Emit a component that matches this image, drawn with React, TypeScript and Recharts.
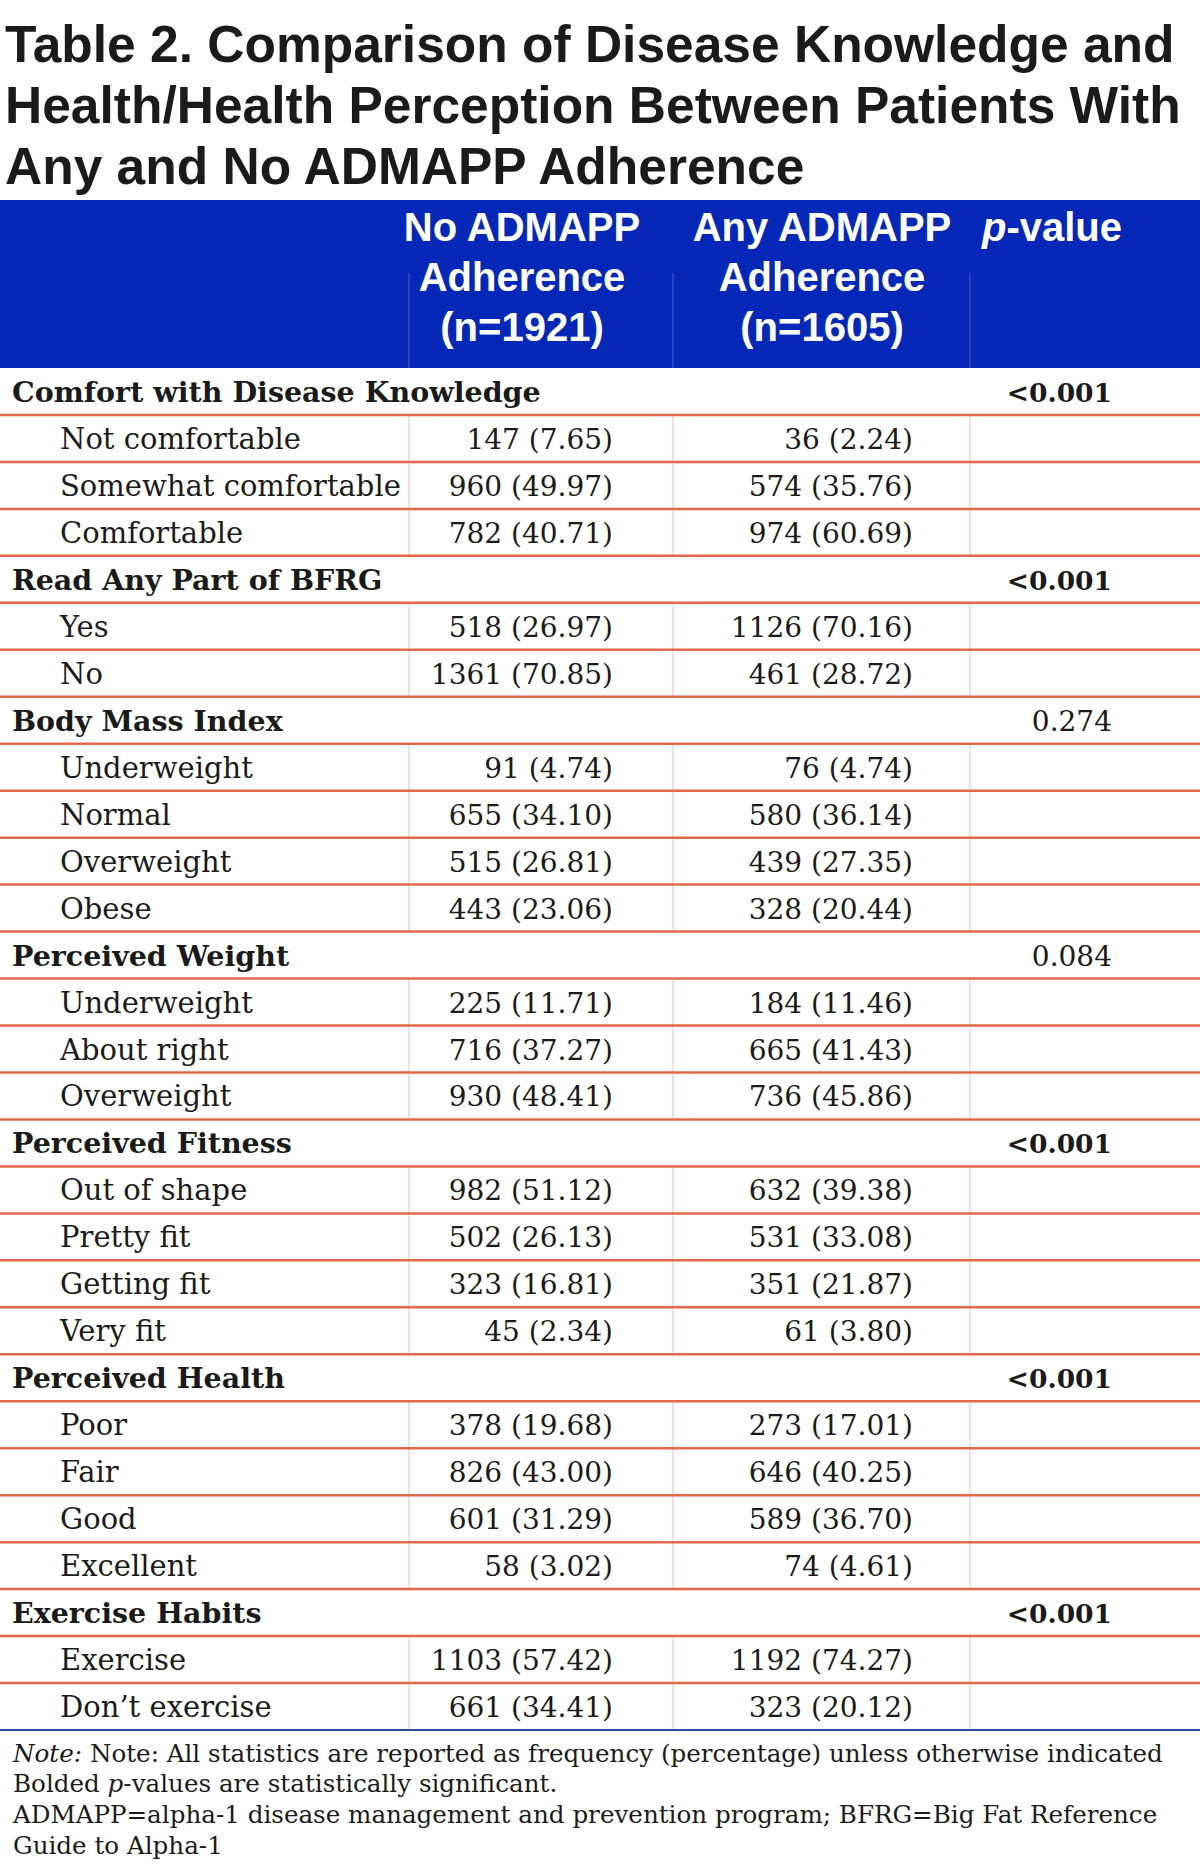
import React from 'react';
import { ComposedChart, XAxis, YAxis, Scatter, ReferenceLine, Customized } from 'recharts';

// ---------- data ----------
const titleLines = [
  'Table 2. Comparison of Disease Knowledge and',
  'Health/Health Perception Between Patients With',
  'Any and No ADMAPP Adherence',
];

const groupHeaders = [
  ['No ADMAPP', 'Adherence', '(n=1921)'],
  ['Any ADMAPP', 'Adherence', '(n=1605)'],
];

const rowLabels = [
  'Comfort with Disease Knowledge', 'Not comfortable', 'Somewhat comfortable', 'Comfortable',
  'Read Any Part of BFRG', 'Yes', 'No',
  'Body Mass Index', 'Underweight', 'Normal', 'Overweight', 'Obese',
  'Perceived Weight', 'Underweight', 'About right', 'Overweight',
  'Perceived Fitness', 'Out of shape', 'Pretty fit', 'Getting fit', 'Very fit',
  'Perceived Health', 'Poor', 'Fair', 'Good', 'Excellent',
  'Exercise Habits', 'Exercise', 'Don\u2019t exercise',
];

const sectionRows = [0, 4, 7, 12, 16, 21, 26];

const noCounts = [null, 147, 960, 782, null, 518, 1361, null, 91, 655, 515, 443, null, 225, 716, 930, null, 982, 502, 323, 45, null, 378, 826, 601, 58, null, 1103, 661];
const noPcts = [null, 7.65, 49.97, 40.71, null, 26.97, 70.85, null, 4.74, 34.10, 26.81, 23.06, null, 11.71, 37.27, 48.41, null, 51.12, 26.13, 16.81, 2.34, null, 19.68, 43.00, 31.29, 3.02, null, 57.42, 34.41];
const anyCounts = [null, 36, 574, 974, null, 1126, 461, null, 76, 580, 439, 328, null, 184, 665, 736, null, 632, 531, 351, 61, null, 273, 646, 589, 74, null, 1192, 323];
const anyPcts = [null, 2.24, 35.76, 60.69, null, 70.16, 28.72, null, 4.74, 36.14, 27.35, 20.44, null, 11.46, 41.43, 45.86, null, 39.38, 33.08, 21.87, 3.80, null, 17.01, 40.25, 36.70, 4.61, null, 74.27, 20.12];

const sectionPValues = ['<0.001', '<0.001', '0.274', '0.084', '<0.001', '<0.001', '<0.001'];
const sectionSignificant = [true, true, false, false, true, true, true];

// ---------- layout ----------
const W = 1200;
const H = 1867;
const BODY_TOP = 368;
const BODY_BOTTOM = 1730;
const ROWS = rowLabels.length;

const X_GROUP = 12;
const X_ITEM = 60;
const X_NO_RIGHT = 613;
const X_ANY_RIGHT = 913;
const X_P_RIGHT = 1112;
const COL_SEPS = [409, 673, 970];
const HEADER_CENTERS = [522, 822];
const X_PHEAD = 982;

const BLUE = '#0528b8';
const RED = '#e3674c';
const PINK = '#f7d3ca';
const INK = '#1b1b1b';
const SERIF = '"DejaVu Serif", serif';
const SANS = '"Liberation Sans", Arial, sans-serif';

const fmt = (c: number | null, p: number | null) => (c == null || p == null ? '' : `${c} (${p.toFixed(2)})`);

const isSection = (i: number) => sectionRows.includes(i);

const labelPoints = rowLabels.map((label, i) => ({
  x: isSection(i) ? X_GROUP : X_ITEM,
  y: i + 0.5,
  text: label,
  kind: isSection(i) ? 'section' : 'label',
  anchor: 'start',
}));

const noPoints = rowLabels
  .map((_, i) => ({ x: X_NO_RIGHT, y: i + 0.5, text: fmt(noCounts[i], noPcts[i]), kind: 'num', anchor: 'end' }))
  .filter((d) => d.text !== '');

const anyPoints = rowLabels
  .map((_, i) => ({ x: X_ANY_RIGHT, y: i + 0.5, text: fmt(anyCounts[i], anyPcts[i]), kind: 'num', anchor: 'end' }))
  .filter((d) => d.text !== '');

const pPoints = sectionRows.map((r, k) => ({
  x: X_P_RIGHT,
  y: r + 0.5,
  text: sectionPValues[k],
  kind: sectionSignificant[k] ? 'pbold' : 'num',
  anchor: 'end',
}));

const itemRows = rowLabels.map((_, i) => i).filter((i) => !isSection(i));

const STYLE: Record<string, { size: number; weight: number }> = {
  section: { size: 28.5, weight: 700 },
  label: { size: 29, weight: 400 },
  num: { size: 28, weight: 400 },
  pbold: { size: 26.5, weight: 700 },
};

const CellText = (props: any) => {
  const { cx, cy, payload } = props;
  if (cx == null || cy == null) return null;
  const st = STYLE[payload.kind];
  return (
    <text
      x={cx}
      y={cy + 10.5}
      textAnchor={payload.anchor}
      fontFamily={SERIF}
      fontSize={st.size}
      fontWeight={st.weight}
      fill={INK}
    >
      {payload.text}
    </text>
  );
};

const Overlay = () => (
  <g>
    {titleLines.map((t, i) => (
      <text key={i} x={5} y={61.5 + i * 61.3} fontFamily={SANS} fontWeight={700} fontSize={51.5} fill={INK}>
        {t}
      </text>
    ))}
    <rect x={0} y={200} width={W} height={BODY_TOP - 200} fill={BLUE} />
    {COL_SEPS.map((x) => (
      <line key={x} x1={x} x2={x} y1={273} y2={BODY_TOP} stroke="#2e4cc2" strokeWidth={1.5} />
    ))}
    {groupHeaders.map((lines, c) =>
      lines.map((t, i) => (
        <text
          key={`${c}-${i}`}
          x={HEADER_CENTERS[c]}
          y={241 + i * 50}
          textAnchor="middle"
          fontFamily={SANS}
          fontWeight={700}
          fontSize={40}
          fill="#ffffff"
        >
          {t}
        </text>
      )),
    )}
    <text x={X_PHEAD} y={241} fontFamily={SANS} fontWeight={700} fontSize={40} fill="#ffffff">
      <tspan fontStyle="italic">p</tspan>
      <tspan>-value</tspan>
    </text>
    <g fontFamily={SERIF} fontSize={24.6} fill={INK}>
      <text x={13} y={1762}>
        <tspan fontStyle="italic">Note:</tspan>
        <tspan> Note: All statistics are reported as frequency (percentage) unless otherwise indicated</tspan>
      </text>
      <text x={13} y={1792}>
        <tspan>Bolded </tspan>
        <tspan fontStyle="italic">p</tspan>
        <tspan>-values are statistically significant.</tspan>
      </text>
      <text x={13} y={1823}>ADMAPP=alpha-1 disease management and prevention program; BFRG=Big Fat Reference</text>
      <text x={13} y={1854}>Guide to Alpha-1</text>
    </g>
  </g>
);

export default function App() {
  return (
    <div style={{ position: 'absolute', left: 0, top: 0, width: W, height: H, background: '#ffffff' }}>
      <ComposedChart
        width={W}
        height={H}
        margin={{ top: BODY_TOP, bottom: H - BODY_BOTTOM, left: 0, right: 0 }}
      >
        <XAxis type="number" dataKey="x" domain={[0, W]} hide allowDataOverflow />
        <YAxis type="number" dataKey="y" domain={[0, ROWS]} reversed hide allowDataOverflow />
        <Customized component={Overlay} />
        {itemRows.map((i) =>
          COL_SEPS.map((x) => (
            <ReferenceLine
              key={`sep-${i}-${x}`}
              segment={[
                { x, y: i },
                { x, y: i + 1 },
              ]}
              stroke={PINK}
              strokeWidth={1.5}
            />
          )),
        )}
        {Array.from({ length: ROWS - 1 }, (_, k) => k + 1).map((k) => (
          <ReferenceLine key={`row-${k}`} y={k} stroke={RED} strokeWidth={2.5} />
        ))}
        <ReferenceLine y={ROWS} stroke="#2d4a9e" strokeWidth={2} />
        <Scatter data={labelPoints} shape={CellText} isAnimationActive={false} />
        <Scatter data={noPoints} shape={CellText} isAnimationActive={false} />
        <Scatter data={anyPoints} shape={CellText} isAnimationActive={false} />
        <Scatter data={pPoints} shape={CellText} isAnimationActive={false} />
      </ComposedChart>
    </div>
  );
}
